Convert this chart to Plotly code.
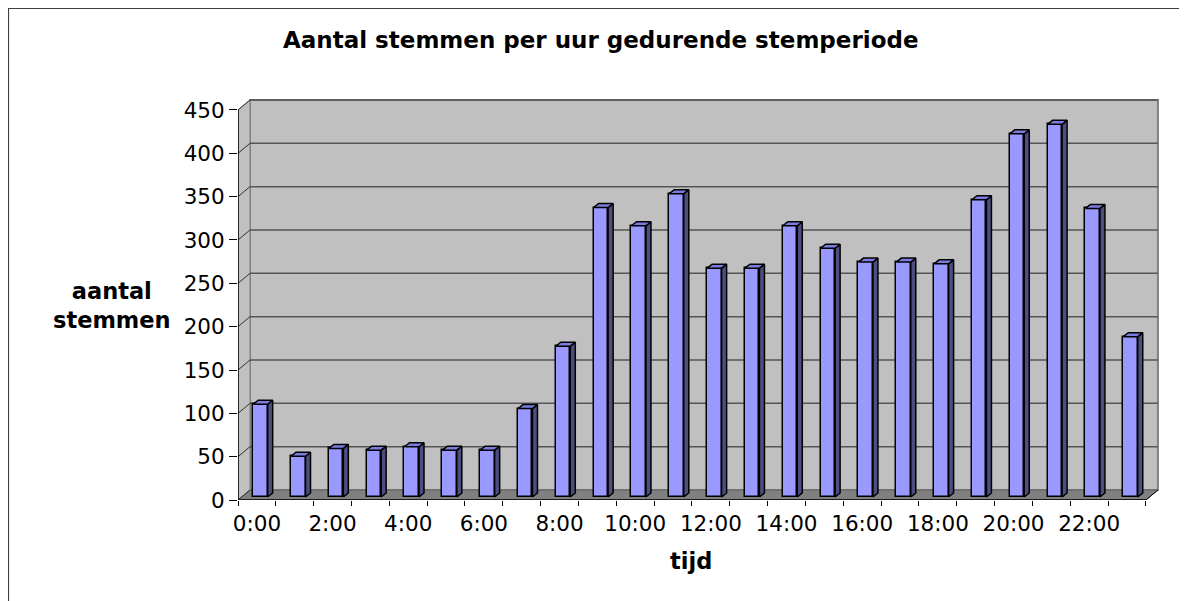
import plotly.graph_objects as go

# ---------------- data ----------------
hours = list(range(24))
hour_labels = [f"{h}:00" for h in hours]
votes = [107, 47, 56, 54, 58, 54, 54, 102, 174, 334, 313, 350,
         264, 264, 313, 287, 271, 271, 269, 343, 419, 430, 333, 185]
y_ticks = list(range(0, 451, 50))
label_hours = [h for h in hours if h % 2 == 0]

title_text = "Aantal stemmen per uur gedurende stemperiode"
y_title = "aantal<br>stemmen"
x_title = "tijd"

# ---------------- geometry (pixels -> data units) ----------------
OFF = 8                       # page body margin of the browser
W, H = 1187 - OFF, 601 - OFF
ML, MT = 238 - OFF, 98 - OFF
MR = W - (1162 - OFF)
MB = H - (500 - OFF)
PW, PH = W - ML - MR, H - MT - MB
PX_X = 37.83          # pixels per category
PX_Y = 0.8667         # pixels per vote
XMAX = PW / PX_X
YMAX = PH / PX_Y
NCAT = len(hours)
YTOP = max(y_ticks)

WALL_DX = 12 / PX_X
WALL_DY = 10 / PX_Y
BAR_DX = 5 / PX_X
BAR_DY = 4 / PX_Y
BAR_SHIFT = 3.5 / PX_X
BAR_BASE = 3 / PX_Y
BAR_W = 14.5 / PX_X


def px_x(px):
    return (px - OFF - ML) / PW


def px_y(py):
    return (H - MB - (py - OFF)) / PH


FONT = "DejaVu Sans"
FRONT = "#9999ff"
SIDE = "#4d4d80"
TOP = "#7b7be0"
WALL = "#c0c0c0"
FLOOR = "#808080"
GRID = "#555555"

fig = go.Figure()

# front faces of the bars
bar_x = [h + 0.5 + BAR_SHIFT for h in hours]
fig.add_trace(go.Bar(
    x=bar_x, y=votes, base=BAR_BASE, width=BAR_W,
    marker=dict(color=FRONT, line=dict(color="black", width=1.5)),
    hoverinfo="skip", showlegend=False,
))

# side faces and top caps computed from the data
sx, sy, tx, ty = [], [], [], []
for xc, v in zip(bar_x, votes):
    xl, xr = xc - BAR_W / 2, xc + BAR_W / 2
    top = BAR_BASE + v
    sx += [xr, xr + BAR_DX, xr + BAR_DX, xr, xr, None]
    sy += [BAR_BASE, BAR_BASE + BAR_DY, top + BAR_DY, top, BAR_BASE, None]
    tx += [xl, xl + BAR_DX, xr + BAR_DX, xr, xl, None]
    ty += [top, top + BAR_DY, top + BAR_DY, top, top, None]

fig.add_trace(go.Scatter(x=sx, y=sy, mode="lines", fill="toself", fillcolor=SIDE,
                         line=dict(color="black", width=1.5), hoverinfo="skip",
                         showlegend=False))
fig.add_trace(go.Scatter(x=tx, y=ty, mode="lines", fill="toself", fillcolor=TOP,
                         line=dict(color="black", width=1.5), hoverinfo="skip",
                         showlegend=False))

shapes = []
# back wall
shapes.append(dict(type="rect", xref="x", yref="y", layer="below",
                   x0=WALL_DX, x1=NCAT + WALL_DX, y0=WALL_DY, y1=YTOP + WALL_DY,
                   fillcolor=WALL, line=dict(color=FLOOR, width=2)))
# left side wall
shapes.append(dict(type="path", xref="x", yref="y", layer="below",
                   path=f"M 0 0 L {WALL_DX} {WALL_DY} L {WALL_DX} {YTOP + WALL_DY} L 0 {YTOP} Z",
                   fillcolor=WALL, line=dict(color=FLOOR, width=1)))
# floor
shapes.append(dict(type="path", xref="x", yref="y", layer="below",
                   path=f"M 0 0 L {NCAT} 0 L {NCAT + WALL_DX} {WALL_DY} L {WALL_DX} {WALL_DY} Z",
                   fillcolor=FLOOR, line=dict(color="#606060", width=1)))
# gridlines on back wall + connectors on side wall
for v in y_ticks[1:]:
    shapes.append(dict(type="line", xref="x", yref="y", layer="below",
                       x0=WALL_DX, x1=NCAT + WALL_DX, y0=v + WALL_DY, y1=v + WALL_DY,
                       line=dict(color=GRID, width=1.5)))
for v in y_ticks:
    shapes.append(dict(type="line", xref="x", yref="y", layer="below",
                       x0=0, x1=WALL_DX, y0=v, y1=v + WALL_DY,
                       line=dict(color="#333333", width=1)))
# front axes lines
shapes.append(dict(type="line", xref="x", yref="y", x0=0, x1=0, y0=0, y1=YTOP,
                   line=dict(color="black", width=1.5)))
shapes.append(dict(type="line", xref="x", yref="y", x0=0, x1=NCAT, y0=0, y1=0,
                   line=dict(color="black", width=1.5)))
shapes.append(dict(type="line", xref="x", yref="y", x0=NCAT, x1=NCAT + WALL_DX, y0=0, y1=WALL_DY,
                   line=dict(color="black", width=1)))
# chart-area border (left and top edges)
shapes.append(dict(type="path", xref="paper", yref="paper",
                   path=f"M {px_x(8.5)} {px_y(620)} L {px_x(8.5)} {px_y(8.5)} L {px_x(1190)} {px_y(8.5)}",
                   line=dict(color="#404040", width=1.2)))

annotations = [
    dict(text=f"<b>{title_text}</b>", xref="paper", yref="paper",
         x=px_x(601), y=px_y(40), showarrow=False, xanchor="center", yanchor="middle",
         font=dict(family=FONT, size=23, color="black")),
    dict(text=f"<b>{y_title}</b>", xref="paper", yref="paper",
         x=px_x(112), y=px_y(305), showarrow=False, align="center",
         xanchor="center", yanchor="middle",
         font=dict(family=FONT, size=22.5, color="black")),
    dict(text=f"<b>{x_title}</b>", xref="paper", yref="paper",
         x=px_x(691), y=px_y(561), showarrow=False, xanchor="center", yanchor="middle",
         font=dict(family=FONT, size=22.5, color="black")),
]

fig.update_layout(
    width=W, height=H,
    margin=dict(l=ML, r=MR, t=MT, b=MB, autoexpand=False),
    paper_bgcolor="white", plot_bgcolor="rgba(0,0,0,0)",
    showlegend=False, bargap=0,
    shapes=shapes, annotations=annotations,
    xaxis=dict(range=[0, XMAX], showgrid=False, zeroline=False, showline=False,
               tickmode="array", tickvals=[h + 0.5 for h in label_hours],
               ticktext=[hour_labels[h] for h in label_hours], ticks="",
               ticklabelstandoff=8,
               tickfont=dict(family=FONT, size=21.5, color="black"),
               minor=dict(tickmode="array", tickvals=list(range(NCAT + 1)),
                          ticks="outside", ticklen=5, tickcolor="black", tickwidth=1,
                          showgrid=False),
               fixedrange=True),
    yaxis=dict(range=[0, YMAX], showgrid=False, zeroline=False, showline=False,
               tickmode="array", tickvals=y_ticks, ticks="outside", ticklen=8,
               tickcolor="black", tickwidth=1,
               tickfont=dict(family=FONT, size=21.5, color="black"),
               fixedrange=True),
)

fig.write_html("out.html")
